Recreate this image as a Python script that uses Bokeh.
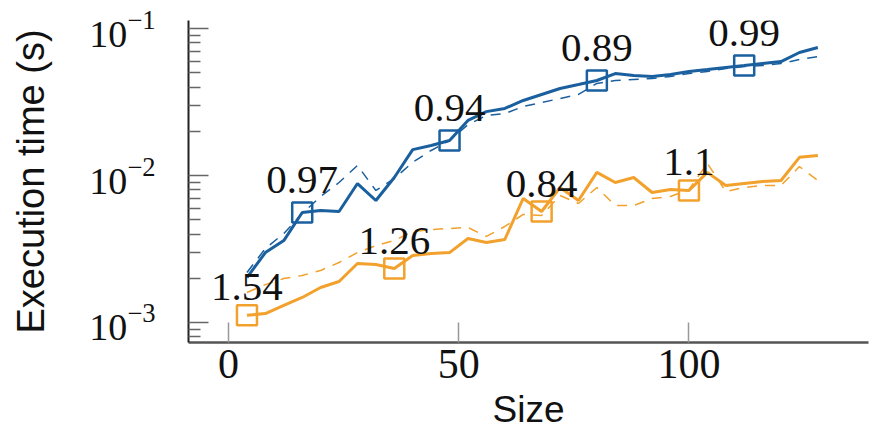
from bokeh.plotting import figure
from bokeh.models import LogAxis, LinearAxis, FixedTicker, Range1d, ColumnDataSource, LogScale
from bokeh.core.properties import value
from bokeh.embed import file_html
from bokeh.resources import INLINE

sizes = list(range(4, 129, 4))

blue_solid = [2.02e-3, 2.99e-3, 3.61e-3, 5.60e-3, 5.78e-3, 5.69e-3, 8.82e-3, 6.76e-3,
              9.69e-3, 1.50e-2, 1.60e-2, 1.73e-2, 2.37e-2, 2.72e-2, 2.86e-2, 3.24e-2,
              3.56e-2, 3.91e-2, 4.16e-2, 4.43e-2, 4.94e-2, 4.79e-2, 4.71e-2, 4.86e-2,
              5.10e-2, 5.26e-2, 5.43e-2, 5.60e-2, 5.78e-2, 5.96e-2, 6.87e-2, 7.43e-2]
blue_dashed = [2.19e-3, 3.19e-3, 4.03e-3, 5.51e-3, 7.20e-3, 8.96e-3, 1.17e-2, 7.91e-3,
               9.54e-3, 1.23e-2, 1.48e-2, 1.73e-2, 2.22e-2, 2.56e-2, 2.64e-2, 2.95e-2,
               3.14e-2, 3.34e-2, 3.56e-2, 4.23e-2, 4.43e-2, 4.50e-2, 4.57e-2, 4.72e-2,
               4.94e-2, 5.10e-2, 5.34e-2, 5.51e-2, 5.60e-2, 5.78e-2, 6.15e-2, 6.45e-2]
orange_solid = [1.12e-3, 1.15e-3, 1.31e-3, 1.48e-3, 1.73e-3, 1.90e-3, 2.52e-3, 2.48e-3,
                2.33e-3, 2.86e-3, 2.95e-3, 2.99e-3, 3.73e-3, 3.50e-3, 3.67e-3, 6.98e-3,
                5.69e-3, 8.29e-3, 6.76e-3, 1.05e-2, 8.96e-3, 9.69e-3, 7.66e-3, 8.03e-3,
                7.91e-3, 1.05e-2, 8.55e-3, 8.82e-3, 9.10e-3, 9.25e-3, 1.33e-2, 1.37e-2]
orange_dashed = [1.60e-3, 1.81e-3, 1.99e-3, 2.09e-3, 2.26e-3, 2.56e-3, 2.99e-3, 3.34e-3,
                 3.61e-3, 4.16e-3, 4.29e-3, 4.36e-3, 4.43e-3, 3.85e-3, 4.50e-3, 5.43e-3,
                 5.34e-3, 7.31e-3, 6.45e-3, 8.29e-3, 6.25e-3, 6.25e-3, 6.98e-3, 7.20e-3,
                 8.03e-3, 1.21e-2, 7.78e-3, 8.29e-3, 8.55e-3, 8.55e-3, 1.15e-2, 9.25e-3]

blue_mark_x = [16, 48, 80, 112]
blue_mark_labels = ["0.97", "0.94", "0.89", "0.99"]
orange_mark_x = [4, 36, 68, 100]
orange_mark_labels = ["1.54", "1.26", "0.84", "1.1"]

x_ticks = [0, 50, 100]
y_ticks = [1e-3, 1e-2, 1e-1]

BLUE = "#1a5f9e"
ORANGE = "#f2a12c"

p = figure(width=869, height=432, output_backend="svg", toolbar_location=None,
           x_axis_type=None, y_axis_type=None,
           x_range=Range1d(-8.7, 139.0), y_range=Range1d(7.31e-4, 0.1134),
           min_border_left=188, min_border_right=1, min_border_top=20, min_border_bottom=90)
p.y_scale = LogScale()
p.outline_line_color = None
p.xgrid.visible = False
p.ygrid.visible = False

minor = []
for d in [1e-4, 1e-3, 1e-2, 1e-1]:
    for m in range(2, 10):
        minor.append(m * d)

yaxis = LogAxis(ticker=FixedTicker(ticks=y_ticks, minor_ticks=minor),
                axis_label="Execution time (s)")
yaxis.axis_line_color = "#222222"
yaxis.axis_line_width = 2
yaxis.major_tick_in = 20
yaxis.major_tick_out = 0
yaxis.minor_tick_in = 12
yaxis.minor_tick_out = 0
yaxis.major_tick_line_color = "#666666"
yaxis.minor_tick_line_color = "#666666"
yaxis.major_tick_line_width = 1.5
yaxis.minor_tick_line_width = 1.5
yaxis.major_label_text_font = "Liberation Serif"
yaxis.major_label_text_font_size = "38px"
yaxis.major_label_text_color = "#111111"
yaxis.major_label_standoff = 33
yaxis.axis_label_text_font = "Liberation Sans"
yaxis.axis_label_text_font_size = "38px"
yaxis.axis_label_text_font_style = "normal"
yaxis.axis_label_text_color = "#111111"
yaxis.axis_label_standoff = 34
p.add_layout(yaxis, "left")

xaxis = LinearAxis(ticker=FixedTicker(ticks=x_ticks, minor_ticks=[]), axis_label="Size")
xaxis.axis_line_color = "#555555"
xaxis.axis_line_width = 2.5
xaxis.major_tick_in = 20
xaxis.major_tick_out = 0
xaxis.minor_tick_in = 0
xaxis.minor_tick_out = 0
xaxis.major_tick_line_color = "#999999"
xaxis.major_tick_line_width = 1.5
xaxis.major_label_text_font = "Liberation Serif"
xaxis.major_label_text_font_size = "42px"
xaxis.major_label_text_color = "#111111"
xaxis.major_label_standoff = 7
xaxis.axis_label_text_font = "Liberation Sans"
xaxis.axis_label_text_font_size = "37px"
xaxis.axis_label_text_font_style = "normal"
xaxis.axis_label_text_color = "#111111"
xaxis.axis_label_standoff = 8
p.add_layout(xaxis, "below")

src = ColumnDataSource(dict(x=sizes, bs=blue_solid, bd=blue_dashed, os=orange_solid, od=orange_dashed))

p.line("x", "bd", source=src, line_color=BLUE, line_width=1.5, line_dash="10 8")
p.line("x", "od", source=src, line_color=ORANGE, line_width=1.5, line_dash="10 8")
p.line("x", "bs", source=src, line_color=BLUE, line_width=3)
p.line("x", "os", source=src, line_color=ORANGE, line_width=3)

bm_y = [blue_solid[sizes.index(v)] for v in blue_mark_x]
om_y = [orange_solid[sizes.index(v)] for v in orange_mark_x]

p.scatter(blue_mark_x, bm_y, marker="square", size=20, fill_color=None,
          line_color=BLUE, line_width=2.5)
p.scatter(orange_mark_x, om_y, marker="square", size=20, fill_color=None,
          line_color=ORANGE, line_width=2.5)

p.text(blue_mark_x, bm_y, text=blue_mark_labels, text_align="center", text_baseline="alphabetic",
       y_offset=-33, text_font=value("Liberation Serif"), text_font_size="41px", text_color="#111111")
p.text(orange_mark_x, om_y, text=orange_mark_labels, text_align="center", text_baseline="alphabetic",
       y_offset=-28, text_font=value("Liberation Serif"), text_font_size="41px", text_color="#111111")

open("out.html", "w").write(file_html(p, INLINE))
